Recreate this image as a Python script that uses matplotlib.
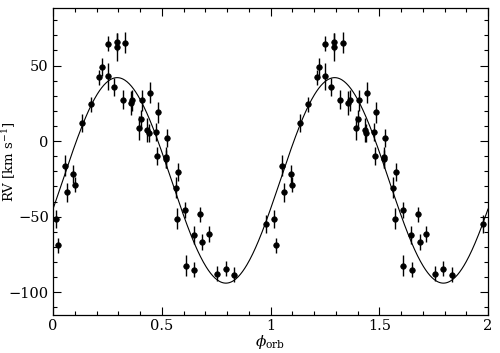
import numpy as np
import matplotlib
matplotlib.use("Agg")
import matplotlib.pyplot as plt

plt.rcParams['font.family'] = ['DejaVu Serif']
plt.rcParams['mathtext.fontset'] = 'dejavuserif'

# Orbital phase (one cycle, repeated at +1)
phase = [0.014, 0.024, 0.055, 0.063, 0.094, 0.101, 0.135, 0.173, 0.213, 0.225,
         0.251, 0.251, 0.280, 0.293, 0.293, 0.333, 0.320, 0.357, 0.365, 0.394,
         0.403, 0.408, 0.434, 0.441, 0.444, 0.475, 0.480, 0.484, 0.520, 0.520,
         0.526, 0.564, 0.575, 0.572, 0.607, 0.610, 0.648, 0.650, 0.677, 0.687,
         0.717, 0.756, 0.794, 0.834, 0.978]
rv = [-51.5, -69.0, -16.3, -34.0, -21.8, -28.9, 11.7, 24.5, 42.3, 49.1,
      64.3, 43.0, 35.7, 65.6, 62.3, 65.2, 27.5, 25.3, 27.1, 8.8,
      14.7, 27.1, 7.1, 5.5, 31.9, 6.1, -9.7, 19.0, -10.8, -11.9,
      1.8, -30.9, -20.7, -51.3, -45.6, -82.4, -61.9, -85.0, -48.5, -66.8,
      -61.5, -87.9, -84.4, -88.4, -54.6]
rv_err = [6, 5, 7, 6, 6, 5, 6, 5, 5, 6,
          5, 9, 6, 6, 9, 7, 6, 8, 7, 8,
          6, 7, 8, 6, 7, 6, 6, 7, 7, 6,
          6, 7, 6, 7, 5, 7, 6, 5, 5, 5,
          5, 5, 5, 5, 6]

# Sine fit parameters
gamma = -26.0
K = 68.0
phi0 = 0.045

ph = np.array(phase)
ph2 = np.concatenate([ph, ph + 1])
rv2 = np.concatenate([rv, rv])
err2 = np.concatenate([rv_err, rv_err])

fig = plt.figure(figsize=(5.0, 3.53), dpi=100)
ax = fig.add_axes([0.106, 0.108, 0.870, 0.869])

xc = np.linspace(0, 2, 600)
ax.plot(xc, gamma + K * np.sin(2 * np.pi * (xc - phi0)), color='black', lw=0.8)

ax.errorbar(ph2, rv2, yerr=err2, fmt='o', color='black', ms=4.0,
            mfc='black', mec='black', mew=0.5, elinewidth=1.0, capsize=0)

ax.set_xlim(0, 2)
ax.set_ylim(-115, 88)
ax.set_xticks([0, 0.5, 1, 1.5, 2])
ax.set_xticklabels(['0', '0.5', '1', '1.5', '2'])
ax.set_xticks(np.arange(0, 2.01, 0.1), minor=True)
ax.set_yticks([-100, -50, 0, 50])
ax.set_yticklabels(['\u2212100', '\u221250', '0', '50'])
ax.set_yticks(np.arange(-110, 88, 10), minor=True)
ax.tick_params(which='both', direction='in', top=True, right=True, labelsize=10.5, width=0.8)
ax.tick_params(which='major', length=6, pad=3)
ax.tick_params(which='minor', length=3)
for s in ax.spines.values():
    s.set_linewidth(0.9)

ax.set_xlabel(r'$\phi_{\rm orb}$', fontsize=11)
ax.xaxis.set_label_coords(0.5, -0.058)
ax.set_ylabel(r'RV [km s$^{-1}$]', fontsize=9.5)
ax.yaxis.set_label_coords(-0.08, 0.5)

fig.savefig('out.png', dpi=100)
